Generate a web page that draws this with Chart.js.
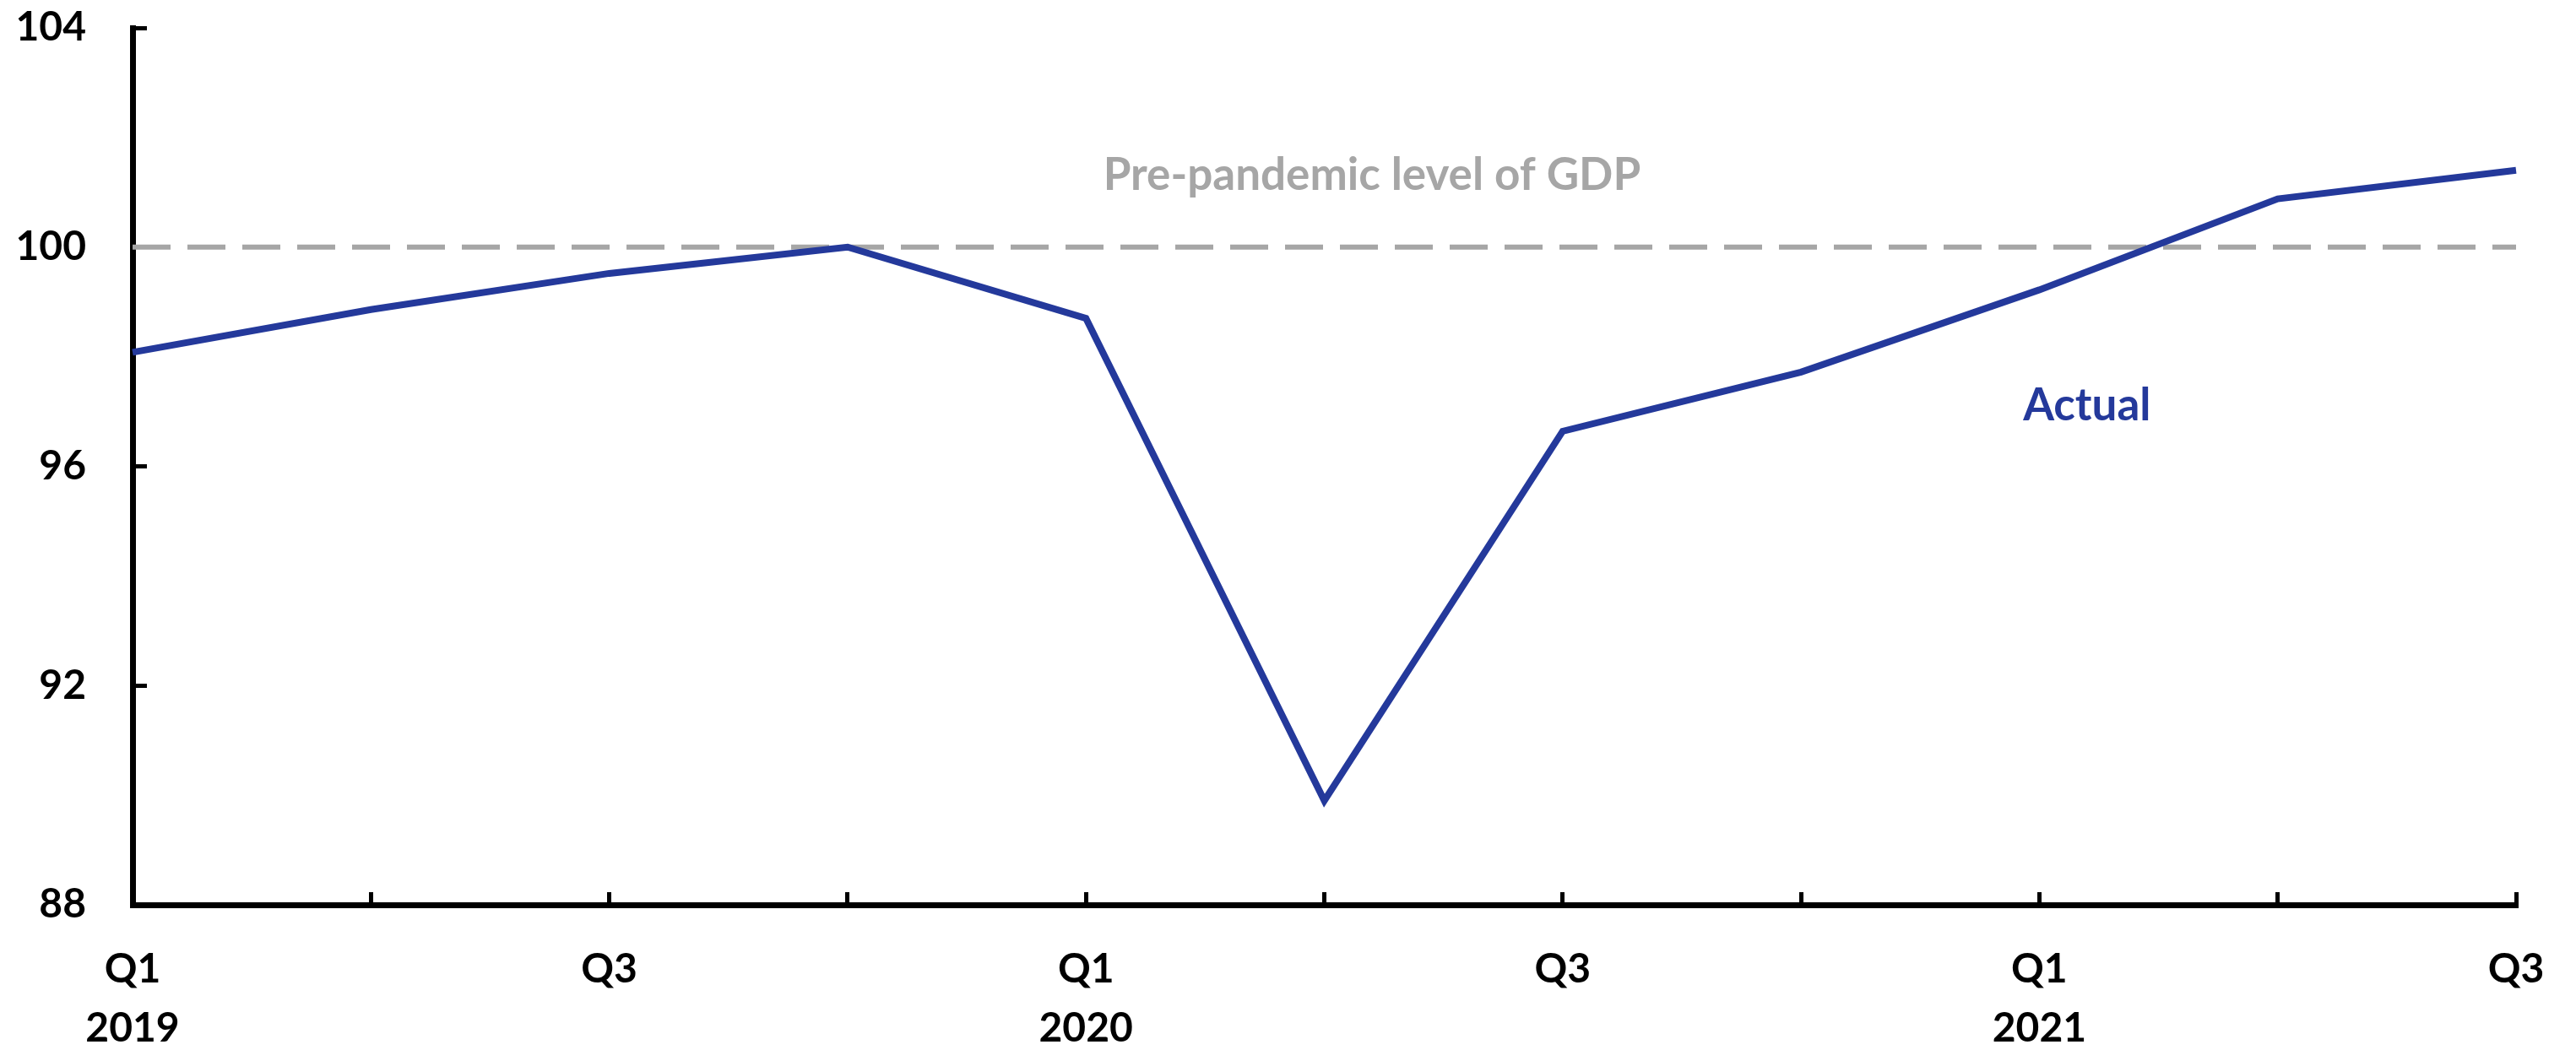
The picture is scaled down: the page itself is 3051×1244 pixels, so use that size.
<!DOCTYPE html>
<html>
<head>
<meta charset="utf-8">
<script src="https://cdn.jsdelivr.net/npm/chart.js@4/dist/chart.umd.min.js"></script>
<style>
  body { margin: 0; background: #fff; }
  #wrap { width: 3051px; height: 1244px; }
</style>
</head>
<body>
<div id="wrap"><canvas id="gdpChart"></canvas></div>
<script>
// quarterly GDP index, pre-pandemic level = 100
const quarterLabels = ["Q1", "", "Q3", "", "Q1", "", "Q3", "", "Q1", "", "Q3"];
const yearLabels = ["2019", "", "", "", "2020", "", "", "", "2021", "", ""];
const actual = [98.08, 98.86, 99.52, 100.0, 98.7, 89.9, 96.64, 97.72, 99.22, 100.88, 101.4];
const prePandemic = [100, 100, 100, 100, 100, 100, 100, 100, 100, 100, 100];
const yTicks = [88, 92, 96, 100, 104];

const blue = "#24399b";
const grey = "#a6a6a6";
const font = "Lato";

// text labels placed in data space
const notes = {
    id: "notes",
    afterDatasetsDraw(chart) {
        const { ctx, scales: { x, y } } = chart;
        ctx.save();
        ctx.textAlign = "center";
        ctx.textBaseline = "middle";
        ctx.font = "bold 53px " + font;
        ctx.fillStyle = grey;
        ctx.fillText("Pre-pandemic level of GDP", x.getPixelForValue(5.2), y.getPixelForValue(101.3));
        ctx.fillStyle = blue;
        ctx.fillText("Actual", x.getPixelForValue(8.2), y.getPixelForValue(97.1));
        ctx.restore();
    },
};

document.addEventListener("DOMContentLoaded", () => {
    const canvas = document.getElementById("gdpChart");
    new Chart(canvas.getContext("2d"), {
        type: "line",
        data: {
            labels: quarterLabels.map((q, i) => [q, yearLabels[i]]),
            datasets: [
                {
                    label: "Actual",
                    data: actual,
                    borderColor: blue,
                    borderWidth: 8,
                    pointRadius: 0,
                    tension: 0,
                },
                {
                    label: "Pre-pandemic level of GDP",
                    data: prePandemic,
                    borderColor: grey,
                    borderWidth: 6,
                    borderDash: [45, 20],
                    pointRadius: 0,
                },
            ],
        },
        options: {
            responsive: true,
            maintainAspectRatio: false,
            animation: false,
            layout: { padding: { top: 0, right: 71, left: 0, bottom: 0 } },
            plugins: {
                legend: { display: false },
                tooltip: { enabled: false },
            },
            scales: {
                x: {
                    offset: false,
                    grid: {
                        drawOnChartArea: false,
                        drawTicks: true,
                        tickLength: -15,
                        color: "#000",
                        lineWidth: 5,
                    },
                    border: { display: true, color: "#000", width: 7 },
                    ticks: {
                        autoSkip: false,
                        maxRotation: 0,
                        padding: 56,
                        color: "#000",
                        font: { family: font, size: 48, weight: "bold", lineHeight: 1.46 },
                    },
                    afterFit(scale) {
                        scale.height = 172;
                        scale.paddingLeft = 0;
                        scale.paddingRight = 0;
                    },
                },
                y: {
                    min: 88,
                    max: 104,
                    afterBuildTicks(scale) { scale.ticks = yTicks.map(v => ({ value: v })); },
                    grid: {
                        drawOnChartArea: false,
                        drawTicks: true,
                        tickLength: -17,
                        color: "#000",
                        lineWidth: 5,
                    },
                    border: { display: true, color: "#000", width: 7 },
                    ticks: {
                        padding: 72,
                        color: "#000",
                        font: { family: font, size: 48, weight: "bold" },
                    },
                    afterFit(scale) {
                        scale.width = 157;
                        scale.paddingTop = 33;
                        scale.paddingBottom = 0;
                    },
                },
            },
        },
        plugins: [notes],
    });
});
</script>
</body>
</html>
